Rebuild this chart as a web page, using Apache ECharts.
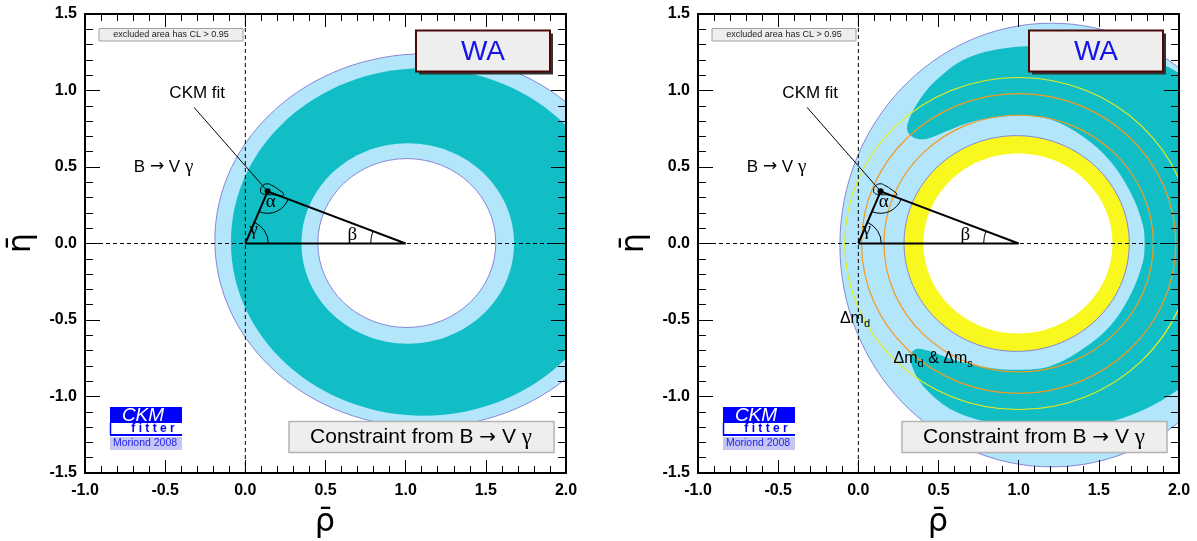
<!DOCTYPE html>
<html><head><meta charset="utf-8">
<script src="https://cdn.jsdelivr.net/npm/echarts@6/dist/echarts.min.js"></script>
<style>html,body{margin:0;padding:0;background:#fff}#c{width:1197px;height:541px}</style>
</head><body><div id="c"></div>
<script>
// ---------------- data ----------------
const xRange = [-1.0, 2.0];           // rho-bar axis
const yRange = [-1.5, 1.5];           // eta-bar axis
const tickStep = 0.5;
// CKM fit apex and unitarity triangle
const apex = [0.139, 0.341];
const triangle = [[0, 0], [1, 0], [0.139, 0.341], [0, 0]];
// CKM fit 95% contour around the apex
const fitContour = [[0.095,0.35],[0.105,0.375],[0.135,0.39],[0.165,0.38],[0.21,0.35],[0.24,0.322],[0.225,0.31],[0.18,0.318],[0.13,0.32],[0.10,0.33]];
// leader line from "CKM fit" label to the apex
const leader = [[-0.32, 0.89], [0.139, 0.341]];
// zero lines
const hZero = [[-1.0, 0], [2.0, 0]];
const vZero = [[0, -1.5], [0, 1.5]];

// Left panel (WA, B -> V gamma) contours: [centre rho, centre eta, half-width, half-height]
const leftOuter95   = [[1.12, 0.02, 1.31, 1.22]];
const leftTeal      = [[1.11, 0.01, 1.20, 1.135]];
const leftInnerBlue = [[1.013, 0.0, 0.663, 0.655]];
const leftHole      = [[1.007, 0.003, 0.555, 0.552]];

// Right panel (WA, B -> V gamma combined with Delta m)
const rightOuter95  = [[1.205, -0.01, 1.32, 1.45]];
const rightTealBand = [
  [0.305,0.74],[0.32,0.82],[0.37,0.92],[0.44,1.02],[0.52,1.10],[0.62,1.18],[0.75,1.24],[0.90,1.275],
  [1.05,1.29],[1.25,1.29],[1.50,1.27],[1.75,1.22],[1.90,1.17],[2.00,1.114],[2.10,1.05],[2.25,0.80],
  [2.35,0.30],[2.35,-0.30],[2.25,-0.70],[2.10,-0.88],[2.00,-0.953],[1.85,-1.05],[1.65,-1.14],[1.45,-1.19],
  [1.25,-1.21],[1.00,-1.20],[0.80,-1.165],[0.68,-1.13],[0.57,-1.08],[0.49,-1.02],[0.42,-0.95],[0.37,-0.88],
  [0.335,-0.80],[0.325,-0.73],
  [0.36,-0.69],[0.43,-0.70],[0.54,-0.74],[0.66,-0.78],[0.80,-0.81],[1.00,-0.825],[1.20,-0.80],[1.40,-0.69],
  [1.57,-0.54],[1.70,-0.33],[1.775,-0.12],[1.785,0.0],[1.775,0.12],[1.70,0.33],[1.57,0.54],[1.40,0.70],
  [1.20,0.81],[1.00,0.835],[0.80,0.815],[0.66,0.78],[0.54,0.73],[0.43,0.685],[0.35,0.69]
];
const rightYellow   = [[0.9875, 0.0, 0.7025, 0.705]];
const rightHole     = [[0.9955, 0.0, 0.5895, 0.588]];
const dmdCircles    = [[1.0, 0.0, 0.84, 0.84], [1.0, 0.0, 0.98, 0.98]];   // orange
const dmsCircles    = [[1.0, 0.0, 1.085, 1.085]];                        // yellow line

// text annotations [rho, eta] anchors
const annCommon = [
  {t: 'CKM fit', at: [-0.30, 0.982], kind: 'sans'},
  {t: 'B → V γ', at: [-0.51, 0.50], kind: 'bvg'},
  {t: 'α', at: [0.158, 0.268], kind: 'greek'},
  {t: 'γ', at: [0.052, 0.09], kind: 'greek'},
  {t: 'β', at: [0.667, 0.056], kind: 'greek'}
];
const annRight = [
  {t: 'dmd', at: [-0.115, -0.49], kind: 'dm1'},
  {t: 'dmds', at: [0.22, -0.75], kind: 'dm2'}
];

// ---------------- chart ----------------
const SANS = '"Liberation Sans", Arial, "DejaVu Sans", sans-serif';
const SERIF = '"Liberation Serif", "DejaVu Serif", serif';
const ARROW = '"DejaVu Sans", sans-serif';
const C = {
  teal: '#12BEC6', blue: '#B3E5FB', edge: '#8787D6', yellow: '#F8F81E',
  orange: '#F39A1E', yline: '#E8EC1A'
};
const gridPx = [{left: 85, top: 14, width: 481, height: 459}, {left: 698, top: 14, width: 481, height: 459}];

function xAxisDef(gi, pos) {
  return {type: 'value', gridIndex: gi, position: pos, min: xRange[0], max: xRange[1], interval: tickStep, z: 10,
    axisLine: {show: true, onZero: false, lineStyle: {color: '#000', width: 2}},
    axisTick: {show: true, inside: true, length: 13, lineStyle: {color: '#000', width: 1}},
    minorTick: {show: true, splitNumber: 5, length: 7, lineStyle: {color: '#000', width: 1}},
    axisLabel: {show: pos === 'bottom', formatter: v => v.toFixed(1), fontSize: 16, fontWeight: 'bold', fontFamily: SANS, color: '#000', margin: 10, showMinLabel: true, showMaxLabel: true},
    splitLine: {show: false}, minorSplitLine: {show: false}};
}
function yAxisDef(gi, pos) {
  return {type: 'value', gridIndex: gi, position: pos, min: yRange[0], max: yRange[1], interval: tickStep, z: 10,
    axisLine: {show: true, onZero: false, lineStyle: {color: '#000', width: 2}},
    axisTick: {show: true, inside: true, length: 15, lineStyle: {color: '#000', width: 1}},
    minorTick: {show: true, splitNumber: 5, length: 8, lineStyle: {color: '#000', width: 1}},
    axisLabel: {show: pos === 'left', formatter: v => v.toFixed(1), fontSize: 16, fontWeight: 'bold', fontFamily: SANS, color: '#000', margin: 8, showMinLabel: true, showMaxLabel: true},
    splitLine: {show: false}, minorSplitLine: {show: false}};
}

function ellipseSeries(gi, items, style, z) {
  return {type: 'custom', xAxisIndex: gi * 2, yAxisIndex: gi * 2, z: z, clip: true, silent: true, data: items,
    renderItem(params, api) {
      const ctr = [api.value(0), api.value(1)];
      const c = api.coord(ctr);
      const s = api.size([api.value(2) * 2, api.value(3) * 2], ctr);
      return {type: 'ellipse', z2: params.dataIndex, shape: {cx: c[0], cy: c[1], rx: s[0] / 2, ry: s[1] / 2}, style: Object.assign({}, style)};
    }};
}
function polygonSeries(gi, pts, style, z, smooth) {
  return {type: 'custom', xAxisIndex: gi * 2, yAxisIndex: gi * 2, z: z, clip: true, silent: true, data: [pts[0]],
    renderItem(params, api) {
      return {type: 'polygon', shape: {points: pts.map(p => api.coord(p)), smooth: smooth}, style: Object.assign({}, style)};
    }};
}
function lineSeries(gi, pts, style, z) {
  return {type: 'line', xAxisIndex: gi * 2, yAxisIndex: gi * 2, z: z, silent: true, data: pts, showSymbol: false, symbol: 'none',
    lineStyle: style, animation: false};
}
function angleSeries(gi) {
  return {type: 'custom', xAxisIndex: gi * 2, yAxisIndex: gi * 2, z: 6, silent: true, data: [apex],
    renderItem(params, api) {
      const O = api.coord(triangle[0]), B = api.coord(triangle[1]), A = api.coord(apex);
      const ang = (f, t) => Math.atan2(t[1] - f[1], t[0] - f[0]);
      const arc = (P, r, a0, a1) => {
        if (a1 < a0) a1 += Math.PI * 2;
        return {type: 'arc', shape: {cx: P[0], cy: P[1], r: r, startAngle: a0, endAngle: a1, clockwise: true}, style: {stroke: '#000', fill: null, lineWidth: 1}};
      };
      return {type: 'group', children: [
        arc(O, 23, ang(O, A), ang(O, B)),
        arc(A, 22, ang(A, B), ang(A, O)),
        arc(B, 35, ang(B, O), ang(B, A)),
        {type: 'circle', shape: {cx: A[0], cy: A[1], r: 3}, style: {fill: '#000'}}
      ]};
    }};
}
function textSeries(gi, anns) {
  return {type: 'custom', xAxisIndex: gi * 2, yAxisIndex: gi * 2, z: 8, silent: true, data: anns.map(a => a.at),
    renderItem(params, api) {
      const a = anns[params.dataIndex];
      const p = api.coord(a.at);
      let style;
      if (a.kind === 'sans') style = {text: a.t, font: '17px ' + SANS, fill: '#000', align: 'center', verticalAlign: 'middle'};
      else if (a.kind === 'greek') style = {text: a.t, font: '19px ' + SERIF, fill: '#000', align: 'center', verticalAlign: 'middle'};
      else if (a.kind === 'bvg') style = {text: '{s|B }{a|→}{s| V }{g|γ}', align: 'center', verticalAlign: 'middle',
          rich: {s: {fontSize: 17, fontFamily: SANS, fill: '#000'}, a: {fontSize: 17, fontFamily: ARROW, fill: '#000'}, g: {fontSize: 19, fontFamily: SERIF, fill: '#000'}}};
      else if (a.kind === 'dm1') style = {text: '{m|Δm}{d|d}', align: 'left', verticalAlign: 'middle',
          rich: {m: {fontSize: 16, fontFamily: SANS, fill: '#000', lineHeight: 22}, d: {fontSize: 11, fontFamily: SANS, fill: '#000', lineHeight: 12, verticalAlign: 'bottom'}}};
      else style = {text: '{m|Δm}{d|d}{m| & Δm}{d|s}', align: 'left', verticalAlign: 'middle',
          rich: {m: {fontSize: 16, fontFamily: SANS, fill: '#000', lineHeight: 22}, d: {fontSize: 11, fontFamily: SANS, fill: '#000', lineHeight: 12, verticalAlign: 'bottom'}}};
      return {type: 'text', x: p[0], y: p[1], style: style};
    }};
}

const series = [];
// left panel
series.push(ellipseSeries(0, leftOuter95, {fill: C.blue, stroke: C.edge, lineWidth: 1}, 1));
series.push(ellipseSeries(0, leftTeal, {fill: C.teal}, 1.1));
series.push(ellipseSeries(0, leftInnerBlue, {fill: C.blue}, 1.2));
series.push(ellipseSeries(0, leftHole, {fill: '#fff', stroke: C.edge, lineWidth: 1}, 1.3));
// right panel
series.push(ellipseSeries(1, rightOuter95, {fill: C.blue, stroke: C.edge, lineWidth: 1}, 1));
series.push(polygonSeries(1, rightTealBand, {fill: C.teal}, 1.1, 0.35));
series.push(ellipseSeries(1, rightYellow, {fill: C.yellow, stroke: C.edge, lineWidth: 1}, 1.2));
series.push(ellipseSeries(1, rightHole, {fill: '#fff'}, 1.3));
series.push(ellipseSeries(1, dmdCircles, {fill: null, stroke: C.orange, lineWidth: 1.2}, 1.5));
series.push(ellipseSeries(1, dmsCircles, {fill: null, stroke: C.yline, lineWidth: 1.2}, 1.5));
for (let gi = 0; gi < 2; gi++) {
  series.push(lineSeries(gi, hZero, {color: '#000', width: 1, type: [4, 3]}, 3));
  series.push(lineSeries(gi, vZero, {color: '#000', width: 1, type: [4, 3]}, 3));
  series.push(polygonSeries(gi, fitContour, {fill: null, stroke: '#000', lineWidth: 1}, 4, 0.5));
  series.push(lineSeries(gi, leader, {color: '#000', width: 1}, 4));
  series.push(lineSeries(gi, triangle, {color: '#000', width: 2}, 5));
  series.push(angleSeries(gi));
  series.push(textSeries(gi, gi === 0 ? annCommon : annCommon.concat(annRight)));
}

// chart furniture (boxes, logo, axis titles)
const graphic = [];
[0, 613].forEach(dx => {
  graphic.push(
    {type: 'rect', z: 20, shape: {x: 99 + dx, y: 28.5, width: 144, height: 12.5}, style: {fill: '#EEEEEE', stroke: '#A0A0A0', lineWidth: 1}},
    {type: 'text', z: 21, x: 171 + dx, y: 35, style: {text: 'excluded area has CL > 0.95', font: '9px ' + SANS, fill: '#222', align: 'center', verticalAlign: 'middle'}},
    {type: 'rect', z: 20, shape: {x: 419 + dx, y: 33.5, width: 134, height: 41}, style: {fill: '#333'}},
    {type: 'rect', z: 21, shape: {x: 416 + dx, y: 30.5, width: 134, height: 41}, style: {fill: '#EEEEEE', stroke: '#4A0808', lineWidth: 2}},
    {type: 'text', z: 22, x: 483 + dx, y: 52, style: {text: 'WA', font: '28px ' + SANS, fill: '#1414E8', align: 'center', verticalAlign: 'middle'}},
    {type: 'rect', z: 20, shape: {x: 289 + dx, y: 421.5, width: 265, height: 31}, style: {fill: '#EEEEEE', stroke: '#B4B4B4', lineWidth: 1.5}},
    {type: 'text', z: 21, x: 421 + dx, y: 437.5, style: {text: '{s|Constraint from B }{a|→}{s| V }{g|γ}', align: 'center', verticalAlign: 'middle',
      rich: {s: {fontSize: 21, fontFamily: SANS, fill: '#000'}, a: {fontSize: 20, fontFamily: ARROW, fill: '#000'}, g: {fontSize: 23, fontFamily: SERIF, fill: '#000'}}}},
    // CKMfitter logo
    {type: 'rect', z: 20, shape: {x: 110 + dx, y: 407, width: 72, height: 16}, style: {fill: '#0000FF'}},
    {type: 'text', z: 21, x: 143 + dx, y: 415.5, style: {text: 'CKM', font: 'italic 19px ' + SANS, fill: '#fff', align: 'center', verticalAlign: 'middle'}},
    {type: 'rect', z: 20, shape: {x: 110 + dx, y: 423, width: 72, height: 12}, style: {fill: '#fff'}},
    {type: 'line', z: 21, shape: {x1: 110.5 + dx, y1: 423, x2: 110.5 + dx, y2: 435}, style: {stroke: '#0000FF', lineWidth: 1.5}},
    {type: 'line', z: 21, shape: {x1: 110 + dx, y1: 435, x2: 182 + dx, y2: 435}, style: {stroke: '#0000FF', lineWidth: 2}},
    {type: 'text', z: 21, x: 153 + dx, y: 429, style: {text: 'f i t t e r', font: 'bold 12px ' + SANS, fill: '#0000FF', align: 'center', verticalAlign: 'middle'}},
    {type: 'rect', z: 20, shape: {x: 110 + dx, y: 437, width: 72, height: 13}, style: {fill: '#C6C6F4'}},
    {type: 'text', z: 21, x: 145 + dx, y: 443.5, style: {text: 'Moriond 2008', font: '10.5px ' + SANS, fill: '#1E1EF0', align: 'center', verticalAlign: 'middle'}},
    // axis titles
    {type: 'text', z: 21, x: 22 + dx, y: 243, rotation: Math.PI / 2, style: {text: 'η̄', font: '32px "DejaVu Sans"', fill: '#000', align: 'center', verticalAlign: 'middle'}},
    {type: 'text', z: 21, x: 325 + dx, y: 523, style: {text: 'ρ̄', font: '32px "DejaVu Sans"', fill: '#000', align: 'center', verticalAlign: 'middle'}}
  );
});

const chart = echarts.init(document.getElementById('c'));
chart.setOption({
  animation: false,
  backgroundColor: '#fff',
  grid: gridPx.map(g => Object.assign({containLabel: false}, g)),
  xAxis: [xAxisDef(0, 'bottom'), xAxisDef(0, 'top'), xAxisDef(1, 'bottom'), xAxisDef(1, 'top')],
  yAxis: [yAxisDef(0, 'left'), yAxisDef(0, 'right'), yAxisDef(1, 'left'), yAxisDef(1, 'right')],
  series: series,
  graphic: graphic
});
</script></body></html>
